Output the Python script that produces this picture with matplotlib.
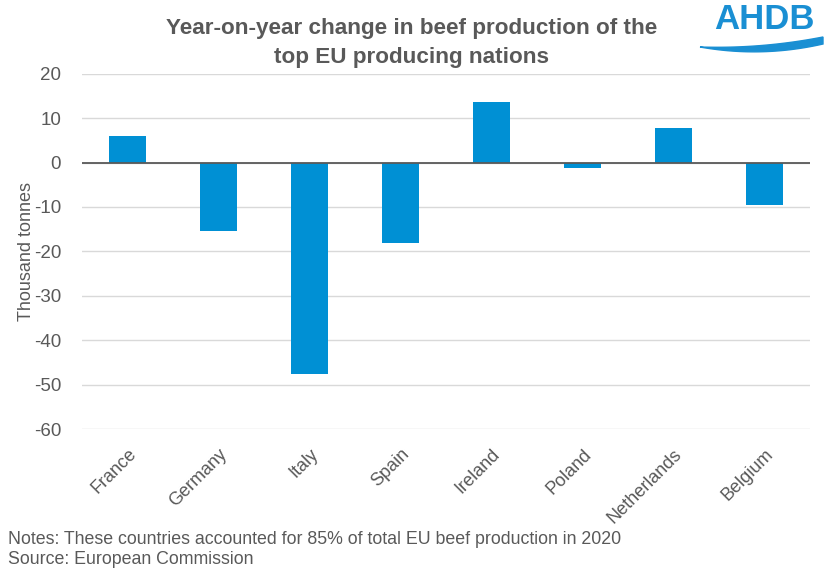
import matplotlib.pyplot as plt
import numpy as np

plt.rcParams['font.family'] = ['Liberation Sans', 'DejaVu Sans']

countries = ['France', 'Germany', 'Italy', 'Spain', 'Ireland', 'Poland', 'Netherlands', 'Belgium']
change = [6.0, -15.3, -47.6, -18.2, 13.7, -1.2, 7.9, -9.5]
yticks = [20, 10, 0, -10, -20, -30, -40, -50, -60]

grey = '#595959'
blue = '#0090d4'
W, H = 825, 572

fig = plt.figure(figsize=(8.25, 5.72), dpi=100)
ax = fig.add_axes([0.0994, 0.25, 0.8826, 0.621])

x = np.arange(len(countries))
ax.bar(x, change, width=0.4, color=blue, zorder=3)
ax.axhline(0, color='#595959', lw=1.3, zorder=4)

ax.set_xlim(-0.5, len(countries) - 0.5)
ax.set_ylim(-60, 20)
ax.set_yticks(yticks)
ax.set_yticklabels([str(t) for t in yticks])
ax.yaxis.grid(True, color='#d9d9d9', lw=1, zorder=0)
for s in ax.spines.values():
    s.set_visible(False)
ax.tick_params(axis='y', length=0, labelsize=13.5, labelcolor=grey, pad=15)
ax.set_xticks(x)
ax.set_xticklabels(countries, rotation=45, ha='right', rotation_mode='anchor')
ax.tick_params(axis='x', length=0, labelsize=13, labelcolor=grey, pad=12)
ax.set_ylabel('Thousand tonnes', fontsize=13, color=grey)
ax.yaxis.set_label_coords(-0.065, 0.5)

fig.text(412 / W, 1 - 34 / H, 'Year-on-year change in beef production of the',
         ha='center', va='baseline', fontsize=16.2, fontweight='bold', color=grey)
fig.text(412 / W, 1 - 63 / H, 'top EU producing nations',
         ha='center', va='baseline', fontsize=16.2, fontweight='bold', color=grey)

fig.text(8 / W, 1 - 540 / H, 'Notes: These countries accounted for 85% of total EU beef production in 2020',
         fontsize=12.8, color=grey, va='center')
fig.text(8 / W, 1 - 560 / H, 'Source: European Commission', fontsize=12.8, color=grey, va='center')

# AHDB logo
logo_blue = '#1a8fd3'
fig.text(764 / W, 1 - 29 / H, 'AHDB', ha='center', va='baseline', fontsize=25,
         fontweight='bold', color=logo_blue)
t = np.linspace(0, 1, 60)
sx = 700 + 123 * t
y_up = 47 + 4 * t - 14 * t ** 2
y_lo = 47 + 22 * t - 25 * t ** 2
px = np.r_[sx, sx[::-1]] / W
py = 1 - np.r_[y_up, y_lo[::-1]] / H
fig.patches.append(plt.Polygon(np.column_stack([px, py]), closed=True, color=logo_blue,
                               transform=fig.transFigure))

fig.savefig('out.png', dpi=100)
